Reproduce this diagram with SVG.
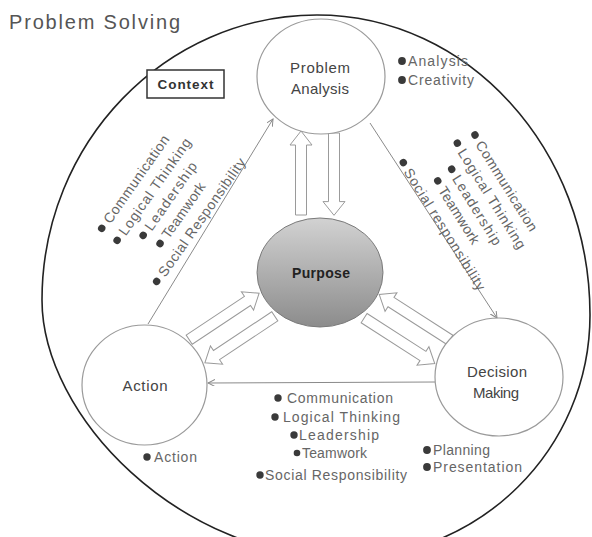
<svg xmlns="http://www.w3.org/2000/svg" xmlns:xlink="http://www.w3.org/1999/xlink" width="592" height="537" viewBox="0 0 592 537">
<style>
text{font-family:"Liberation Sans",Arial,sans-serif}
.title{font-size:20px;fill:#555}
.lbl{font-size:15px;fill:#444;text-anchor:middle}
.it{font-size:14px;fill:#666}
.b{fill:#3a3a3a}
.node{fill:#fff;stroke:#9a9a9a;stroke-width:1.2}
.ln{fill:none;stroke:#8a8a8a;stroke-width:1}
.blk{fill:#fff;stroke:#9a9a9a;stroke-width:1}
</style>
<defs>
<marker id="ah" markerWidth="8" markerHeight="8" refX="7" refY="3.5" orient="auto" markerUnits="userSpaceOnUse">
<path d="M0,0 L7,3.5 L0,7" fill="none" stroke="#888" stroke-width="1"/>
</marker>
<linearGradient id="pg" x1="0" y1="0" x2="0" y2="1">
<stop offset="0" stop-color="#d2d2d2"/>
<stop offset="1" stop-color="#8c8c8c"/>
</linearGradient>
<path id="blk" d="M0,-5.5 L70,-5.5 L70,-11 L84,0 L70,11 L70,5.5 L0,5.5 Z"/>
</defs>
<rect width="592" height="537" fill="#fff"/>
<text class="title" x="9" y="29" textLength="171" lengthAdjust="spacing">Problem Solving</text>
<g id="context-boundary">
<path d="M42,300 C42,143 165,15 317,15 C468,15 590,149 590,315 C590,449 480,558 345,558 C178,558 42,415 42,300 Z" fill="none" stroke="#222" stroke-width="1.6"/>
</g>
<g id="context">
<rect x="147" y="70" width="77" height="28" fill="#fff" stroke="#333" stroke-width="1.5"/>
<text x="185.5" y="89" font-size="13.5" font-weight="bold" fill="#333" text-anchor="middle" textLength="56" lengthAdjust="spacing">Context</text>
</g>
<g id="connectors">
<line class="ln" x1="148" y1="324" x2="273" y2="119" marker-end="url(#ah)"/>
<line class="ln" x1="370" y1="123" x2="497" y2="318" marker-end="url(#ah)"/>
<line class="ln" x1="435" y1="382" x2="208" y2="383" marker-end="url(#ah)"/>
<use href="#blk" class="blk" transform="translate(301,215) rotate(-90)"/>
<use href="#blk" class="blk" transform="translate(334,133) rotate(90) scale(0.98,1)"/>
<use href="#blk" class="blk" transform="translate(189.2,339.7) rotate(-33.65)"/>
<use href="#blk" class="blk" transform="translate(274.8,316.3) rotate(146.35)"/>
<use href="#blk" class="blk" transform="translate(449.9,339.9) rotate(212.7)"/>
<use href="#blk" class="blk" transform="translate(364.1,318.1) rotate(32.75)"/>
</g>
<g id="problem-analysis">
<ellipse class="node" cx="321" cy="76.5" rx="64" ry="57.5"/>
<text class="lbl" x="320" y="73" textLength="60" lengthAdjust="spacing">Problem</text>
<text class="lbl" x="320" y="94" textLength="58" lengthAdjust="spacing">Analysis</text>
</g>
<g id="purpose">
<ellipse cx="320" cy="272.5" rx="63" ry="54.5" fill="url(#pg)" stroke="#7a7a7a" stroke-width="1"/>
<text x="321" y="278" font-size="14" font-weight="bold" fill="#222" text-anchor="middle" textLength="58" lengthAdjust="spacing">Purpose</text>
</g>
<g id="action">
<ellipse class="node" cx="144.5" cy="385" rx="62.5" ry="60"/>
<text class="lbl" x="145" y="391" textLength="45" lengthAdjust="spacing">Action</text>
</g>
<g id="decision-making">
<ellipse class="node" cx="499" cy="377" rx="64" ry="59"/>
<text class="lbl" x="497" y="377" textLength="60" lengthAdjust="spacing">Decision</text>
<text class="lbl" x="496" y="398" textLength="46" lengthAdjust="spacing">Making</text>
</g>
<g id="pa-skills">
<circle class="b" cx="402" cy="61" r="3.9"/>
<text class="it" x="408" y="66" textLength="60" lengthAdjust="spacing">Analysis</text>
<circle class="b" cx="402" cy="80" r="3.9"/>
<text class="it" x="408" y="85" textLength="66" lengthAdjust="spacing">Creativity</text>
</g>
<g id="dm-skills">
<circle class="b" cx="427" cy="450" r="3.9"/>
<text class="it" x="433" y="455" textLength="57" lengthAdjust="spacing">Planning</text>
<circle class="b" cx="427" cy="467" r="3.9"/>
<text class="it" x="433" y="472" textLength="89" lengthAdjust="spacing">Presentation</text>
</g>
<g id="action-skills">
<circle class="b" cx="147" cy="457" r="3.7"/>
<text class="it" x="154" y="462" textLength="43" lengthAdjust="spacing">Action</text>
</g>
<g id="left-skills" transform="translate(101.7,228.3) rotate(-55)">
<circle class="b" cx="0" cy="0" r="3.7"/><text class="it" x="8" y="5" textLength="104" lengthAdjust="spacing">Communication</text>
<circle class="b" cx="-1" cy="19.5" r="3.7"/><text class="it" x="7" y="24.5" textLength="115" lengthAdjust="spacing">Logical Thinking</text>
<circle class="b" cx="18" cy="38" r="3.7"/><text class="it" x="26" y="43" textLength="80" lengthAdjust="spacing">Leadership</text>
<circle class="b" cx="21" cy="56.5" r="3.7"/><text class="it" x="29" y="61.5" textLength="65" lengthAdjust="spacing">Teamwork</text>
<circle class="b" cx="-12" cy="75.5" r="3.7"/><text class="it" x="-4" y="80.5" textLength="141" lengthAdjust="spacing">Social Responsibility</text>
</g>
<g id="right-skills" transform="translate(475,135) rotate(58)">
<circle class="b" cx="0" cy="0" r="3.7"/><text class="it" x="8" y="5" textLength="104" lengthAdjust="spacing">Communication</text>
<circle class="b" cx="-2.4" cy="19.3" r="3.7"/><text class="it" x="5.6" y="24.3" textLength="115" lengthAdjust="spacing">Logical Thinking</text>
<circle class="b" cx="16.7" cy="37.9" r="3.7"/><text class="it" x="24.7" y="42.9" textLength="80" lengthAdjust="spacing">Leadership</text>
<circle class="b" cx="19.2" cy="55.9" r="3.7"/><text class="it" x="27.2" y="60.9" textLength="65" lengthAdjust="spacing">Teamwork</text>
<circle class="b" cx="-14.6" cy="75.4" r="3.7"/><text class="it" x="-6.6" y="80.4" textLength="141" lengthAdjust="spacing">Social responsibility</text>
</g>
<g id="bottom-skills" transform="translate(278,398)">
<circle class="b" cx="0" cy="0" r="3.7"/><text class="it" x="9" y="5" textLength="106" lengthAdjust="spacing">Communication</text>
<circle class="b" cx="-3" cy="19" r="3.7"/><text class="it" x="5" y="24" textLength="117" lengthAdjust="spacing">Logical Thinking</text>
<circle class="b" cx="16" cy="37" r="3.7"/><text class="it" x="21" y="42" textLength="80" lengthAdjust="spacing">Leadership</text>
<circle class="b" cx="19" cy="55" r="3.3"/><text class="it" x="24" y="60" textLength="65" lengthAdjust="spacing">Teamwork</text>
<circle class="b" cx="-18" cy="77" r="3.7"/><text class="it" x="-13" y="82" textLength="142" lengthAdjust="spacing">Social Responsibility</text>
</g>
</svg>
